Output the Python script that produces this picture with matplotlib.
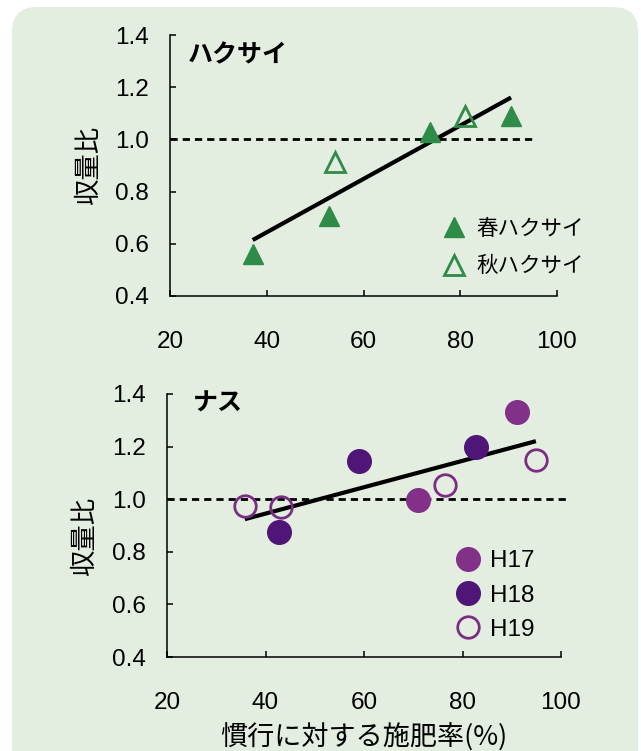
import numpy as np
import matplotlib
matplotlib.use("Agg")
import matplotlib.pyplot as plt
from matplotlib.patches import FancyBboxPatch

plt.rcParams['font.family'] = ['Liberation Sans', 'Noto Sans CJK JP', 'DejaVu Sans']

# ハクサイ: 施肥率(%) と 収量比
haku_haru_x = [37.1, 52.9, 73.7, 90.5]
haku_haru_y = [0.56, 0.705, 1.03, 1.09]
haku_aki_x = [54.1, 80.9]
haku_aki_y = [0.915, 1.09]

# ナス: 年度別
nasu_h17_x = [71.0, 91.0]
nasu_h17_y = [0.996, 1.33]
nasu_h18_x = [42.7, 59.0, 82.7]
nasu_h18_y = [0.875, 1.147, 1.198]
nasu_h19_x = [35.8, 43.1, 76.4, 94.9]
nasu_h19_y = [0.974, 0.970, 1.055, 1.149]

x_ticks = [20, 40, 60, 80, 100]
y_ticks = [0.4, 0.6, 0.8, 1.0, 1.2, 1.4]

GREEN = '#2f8b48'
H17 = '#823088'
H18 = '#4f1677'
H19 = '#7a2d83'
BG = '#e3ede0'

W, H = 641, 751
fig = plt.figure(figsize=(W / 100, H / 100), dpi=100)
fig.patch.set_facecolor('white')

# 角丸の背景パネル
panel = FancyBboxPatch((0.12, -0.3), 6.26, 7.74,
                       boxstyle='round,pad=0,rounding_size=0.25',
                       transform=fig.dpi_scale_trans,
                       facecolor=BG, edgecolor='none', zorder=-10)
fig.patches.append(panel)


def px_axes(l, t, r, b):
    return fig.add_axes([l / W, 1 - b / H, (r - l) / W, (b - t) / H])


def style(ax):
    ax.set_facecolor('none')
    ax.set_xlim(20, 100)
    ax.set_ylim(0.4, 1.4)
    ax.set_xticks(x_ticks)
    ax.set_yticks(y_ticks)
    ax.set_yticklabels([f'{v:.1f}' for v in y_ticks])
    for s in ['top', 'right']:
        ax.spines[s].set_visible(False)
    for s in ['left', 'bottom']:
        ax.spines[s].set_linewidth(1.1)
    ax.tick_params(axis='both', direction='in', length=4, width=1.1,
                   labelsize=17.5)
    ax.tick_params(axis='x', pad=25)
    ax.tick_params(axis='y', pad=15)
    ax.set_ylabel('収量比', fontsize=19, family=['Noto Sans CJK JP'])


def fit_line(ax, xs, ys):
    xs = np.asarray(xs)
    ys = np.asarray(ys)
    a, b = np.polyfit(xs, ys, 1)
    xx = np.array([xs.min(), xs.max()])
    ax.plot(xx, a * xx + b, color='black', lw=3, zorder=2,
            solid_capstyle='butt')


# 上段: ハクサイ
ax1 = px_axes(170, 35, 557, 296)
style(ax1)
ax1.plot([20, 95], [1.0, 1.0], color='black', lw=2, dashes=(2.6, 1.8),
         zorder=1)
fit_line(ax1, haku_haru_x + haku_aki_x, haku_haru_y + haku_aki_y)
ax1.plot(haku_haru_x, haku_haru_y, '^', ms=15, color=GREEN, mec=GREEN,
         label='春ハクサイ', zorder=3)
ax1.plot(haku_aki_x, haku_aki_y, '^', ms=14, mfc='none', mec=GREEN, mew=2,
         label='秋ハクサイ', zorder=3)
ax1.text(0.047, 0.923, 'ハクサイ', transform=ax1.transAxes, fontsize=18,
         fontweight='bold', va='center', ha='left',
         family=['Noto Sans CJK JP'])
ax1.legend(loc='upper left', bbox_to_anchor=(0.70, 0.295), frameon=False,
           borderaxespad=0, borderpad=0, handlelength=1.2,
           handletextpad=0.45, labelspacing=0.75, fontsize=15.5)
ax1.yaxis.set_label_coords(-0.175, 0.5)

# 下段: ナス
ax2 = px_axes(167, 394, 561, 657)
style(ax2)
ax2.plot([20, 101.5], [1.0, 1.0], color='black', lw=2, dashes=(2.6, 1.8),
         zorder=1, clip_on=False)
fit_line(ax2, nasu_h17_x + nasu_h18_x + nasu_h19_x,
         nasu_h17_y + nasu_h18_y + nasu_h19_y)
ax2.plot(nasu_h17_x, nasu_h17_y, 'o', ms=17, color=H17, mec=H17,
         label='H17', zorder=3)
ax2.plot(nasu_h18_x, nasu_h18_y, 'o', ms=17, color=H18, mec=H18,
         label='H18', zorder=3)
ax2.plot(nasu_h19_x, nasu_h19_y, 'o', ms=15.5, mfc='none', mec=H19, mew=2,
         label='H19', zorder=3)
ax2.text(0.066, 0.962, 'ナス', transform=ax2.transAxes, fontsize=18,
         fontweight='bold', va='center', ha='left',
         family=['Noto Sans CJK JP'])
ax2.legend(loc='upper left', bbox_to_anchor=(0.728, 0.405), frameon=False,
           borderaxespad=0, borderpad=0, handlelength=1.2,
           handletextpad=0.3, labelspacing=0.5, fontsize=17.5)
ax2.yaxis.set_label_coords(-0.175, 0.46)
ax2.set_xlabel('慣行に対する施肥率(%)', fontsize=19.5, labelpad=7,
               family=['Noto Sans CJK JP', 'Liberation Sans'])

fig.savefig('out.png', dpi=100)
